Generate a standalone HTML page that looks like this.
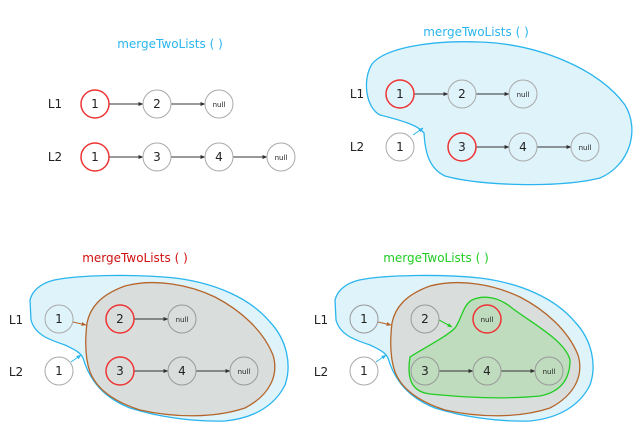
<!DOCTYPE html>
<html><head><meta charset="utf-8"><style>
html,body{margin:0;padding:0;background:#fff;}
svg{display:block;}
text{font-family:"Comic Sans MS","DejaVu Sans","Liberation Sans",sans-serif;}
</style></head><body>
<svg width="644" height="437" viewBox="0 0 644 437">
<defs>
<marker id="ah" viewBox="0 0 10 10" refX="9" refY="5" markerWidth="5" markerHeight="5" orient="auto"><path d="M0,1 L10,5 L0,9z" fill="#333"/></marker>
<marker id="ahb" viewBox="0 0 10 10" refX="9" refY="5" markerWidth="5" markerHeight="5" orient="auto"><path d="M0,1 L10,5 L0,9z" fill="#b5652a"/></marker>
<marker id="ahc" viewBox="0 0 10 10" refX="9" refY="5" markerWidth="5" markerHeight="5" orient="auto"><path d="M0,1 L10,5 L0,9z" fill="#2ab5ee"/></marker>
<marker id="ahg" viewBox="0 0 10 10" refX="9" refY="5" markerWidth="5" markerHeight="5" orient="auto"><path d="M0,1 L10,5 L0,9z" fill="#22cc22"/></marker>
</defs>

<!-- Panel 1 -->
<g>
<text x="170" y="48" font-size="12" fill="#2ab5ee" text-anchor="middle">mergeTwoLists ( )</text>
<text x="55" y="108" font-size="12" fill="#222" text-anchor="middle">L1</text>
<text x="55" y="161" font-size="12" fill="#222" text-anchor="middle">L2</text>
<g stroke="#333" stroke-width="1" marker-end="url(#ah)">
<line x1="109" y1="104" x2="143" y2="104"/><line x1="171" y1="104" x2="205" y2="104"/>
<line x1="109" y1="157" x2="143" y2="157"/><line x1="171" y1="157" x2="205" y2="157"/><line x1="233" y1="157" x2="267" y2="157"/>
</g>
<g fill="none" stroke="#aaa">
<circle cx="157" cy="104" r="14"/><circle cx="219" cy="104" r="14"/>
<circle cx="157" cy="157" r="14"/><circle cx="219" cy="157" r="14"/><circle cx="281" cy="157" r="14"/>
</g>
<circle cx="95" cy="104" r="14" fill="none" stroke="#e33" stroke-width="1.5"/>
<circle cx="95" cy="157" r="14" fill="none" stroke="#e33" stroke-width="1.5"/>
<g font-size="12" fill="#222" text-anchor="middle">
<text x="95" y="108">1</text><text x="157" y="108">2</text><text x="219" y="107" font-size="7">null</text>
<text x="95" y="161">1</text><text x="157" y="161">3</text><text x="219" y="161">4</text><text x="281" y="160" font-size="7">null</text>
</g>
</g>

<!-- Panel 2 -->
<g>
<text x="476" y="36" font-size="12" fill="#2ab5ee" text-anchor="middle">mergeTwoLists ( )</text>
<path d="M372,64 C385,48 430,40 480,42 C540,44 600,70 625,105 C640,130 630,165 600,178 C560,188 480,186 445,176 C428,168 425,150 424,133 C418,125 400,120 380,115 C366,108 362,80 372,64Z" fill="#dff3fb" stroke="#2ab5ee" stroke-width="1.3"/>
<line x1="413" y1="135" x2="423" y2="128" stroke="#2ab5ee" marker-end="url(#ahc)"/>
<text x="357" y="98" font-size="12" fill="#222" text-anchor="middle">L1</text>
<text x="357" y="151" font-size="12" fill="#222" text-anchor="middle">L2</text>
<g stroke="#333" stroke-width="1" marker-end="url(#ah)">
<line x1="414" y1="94" x2="448" y2="94"/><line x1="476" y1="94" x2="509" y2="94"/>
<line x1="476" y1="147" x2="509" y2="147"/><line x1="537" y1="147" x2="571" y2="147"/>
</g>
<circle cx="400" cy="147" r="14" fill="#fff" stroke="#aaa"/>
<g fill="none" stroke="#aaa"><circle cx="462" cy="94" r="14"/><circle cx="523" cy="94" r="14"/><circle cx="523" cy="147" r="14"/><circle cx="585" cy="147" r="14"/></g>
<circle cx="400" cy="94" r="14" fill="none" stroke="#e33" stroke-width="1.5"/>
<circle cx="462" cy="147" r="14" fill="none" stroke="#e33" stroke-width="1.5"/>
<g font-size="12" fill="#222" text-anchor="middle">
<text x="400" y="98">1</text><text x="462" y="98">2</text><text x="523" y="97" font-size="7">null</text>
<text x="400" y="151">1</text><text x="462" y="151">3</text><text x="523" y="151">4</text><text x="585" y="150" font-size="7">null</text>
</g>
</g>

<!-- Panel 3 & 4 shared shapes -->
<g id="p3" transform="translate(-305,0)">
<path id="cy" d="M335,300 C338,288 350,281 365,279 C390,275 440,274 480,278 C520,283 555,298 575,322 C592,340 597,365 590,385 C580,405 560,418 530,421 C495,422 460,416 435,408 C410,398 395,382 388,358 C385,352 380,350 370,345 C355,340 340,335 336,320 Z" fill="#dff3fb" stroke="#2ab5ee" stroke-width="1.3"/>
<path d="M392,323 C395,308 405,295 430,286 C460,278 495,285 520,297 C545,310 568,330 578,355 C584,375 575,395 550,408 C520,418 480,418 445,410 C420,402 402,390 395,372 C390,358 390,340 392,323Z" fill="#d9dedd" stroke="#b5652a" stroke-width="1.3"/>
<line x1="378" y1="322" x2="391" y2="325" stroke="#b5652a" marker-end="url(#ahb)"/>
<line x1="376" y1="362" x2="386" y2="355" stroke="#2ab5ee" marker-end="url(#ahc)"/>
<text x="321" y="324" font-size="12" fill="#222" text-anchor="middle">L1</text>
<text x="321" y="376" font-size="12" fill="#222" text-anchor="middle">L2</text>
<circle cx="364" cy="371" r="14" fill="#fff" stroke="#aaa"/>
<circle cx="364" cy="319" r="14" fill="none" stroke="#aaa"/>
<g font-size="12" fill="#222" text-anchor="middle"><text x="364" y="323">1</text><text x="364" y="375">1</text></g>
</g>
<g>
<text x="135" y="262" font-size="12" fill="#d01010" text-anchor="middle">mergeTwoLists ( )</text>
<g stroke="#333" stroke-width="1" marker-end="url(#ah)">
<line x1="134" y1="319" x2="168" y2="319"/><line x1="134" y1="371" x2="168" y2="371"/><line x1="196" y1="371" x2="230" y2="371"/>
</g>
<g fill="none" stroke="#999"><circle cx="182" cy="319" r="14"/><circle cx="182" cy="371" r="14"/><circle cx="244" cy="371" r="14"/></g>
<circle cx="120" cy="319" r="14" fill="none" stroke="#e33" stroke-width="1.5"/>
<circle cx="120" cy="371" r="14" fill="none" stroke="#e33" stroke-width="1.5"/>
<g font-size="12" fill="#222" text-anchor="middle">
<text x="120" y="323">2</text><text x="182" y="322" font-size="7">null</text>
<text x="120" y="375">3</text><text x="182" y="375">4</text><text x="244" y="374" font-size="7">null</text>
</g>
</g>

<g>
<g transform="translate(0,0)">
<path d="M335,300 C338,288 350,281 365,279 C390,275 440,274 480,278 C520,283 555,298 575,322 C592,340 597,365 590,385 C580,405 560,418 530,421 C495,422 460,416 435,408 C410,398 395,382 388,358 C385,352 380,350 370,345 C355,340 340,335 336,320 Z" fill="#dff3fb" stroke="#2ab5ee" stroke-width="1.3"/>
<path d="M392,323 C395,308 405,295 430,286 C460,278 495,285 520,297 C545,310 568,330 578,355 C584,375 575,395 550,408 C520,418 480,418 445,410 C420,402 402,390 395,372 C390,358 390,340 392,323Z" fill="#d9dedd" stroke="#b5652a" stroke-width="1.3"/>
<path d="M410,357 C420,350 445,338 455,328 C462,318 463,305 472,300 C485,294 500,298 512,308 C530,322 565,340 570,360 C570,380 560,392 540,396 C510,399 470,398 430,394 C414,392 406,382 410,357Z" fill="#bfdcbf" stroke="#22cc22" stroke-width="1.3"/>
<line x1="378" y1="322" x2="391" y2="325" stroke="#b5652a" marker-end="url(#ahb)"/>
<line x1="376" y1="362" x2="386" y2="355" stroke="#2ab5ee" marker-end="url(#ahc)"/>
<line x1="439" y1="320" x2="452" y2="327" stroke="#22cc22" marker-end="url(#ahg)"/>
</g>
<text x="436" y="262" font-size="12" fill="#22cc22" text-anchor="middle">mergeTwoLists ( )</text>
<text x="321" y="324" font-size="12" fill="#222" text-anchor="middle">L1</text>
<text x="321" y="376" font-size="12" fill="#222" text-anchor="middle">L2</text>
<g stroke="#333" stroke-width="1" marker-end="url(#ah)">
<line x1="439" y1="371" x2="473" y2="371"/><line x1="501" y1="371" x2="535" y2="371"/>
</g>
<circle cx="364" cy="371" r="14" fill="#fff" stroke="#aaa"/>
<g fill="none" stroke="#999"><circle cx="364" cy="319" r="14"/><circle cx="425" cy="319" r="14"/><circle cx="425" cy="371" r="14"/><circle cx="487" cy="371" r="14"/><circle cx="549" cy="371" r="14"/></g>
<circle cx="487" cy="319" r="14" fill="none" stroke="#e33" stroke-width="1.5"/>
<g font-size="12" fill="#222" text-anchor="middle">
<text x="364" y="323">1</text><text x="425" y="323">2</text><text x="487" y="322" font-size="7">null</text>
<text x="364" y="375">1</text><text x="425" y="375">3</text><text x="487" y="375">4</text><text x="549" y="374" font-size="7">null</text>
</g>
</g>
</svg>
</body></html>
